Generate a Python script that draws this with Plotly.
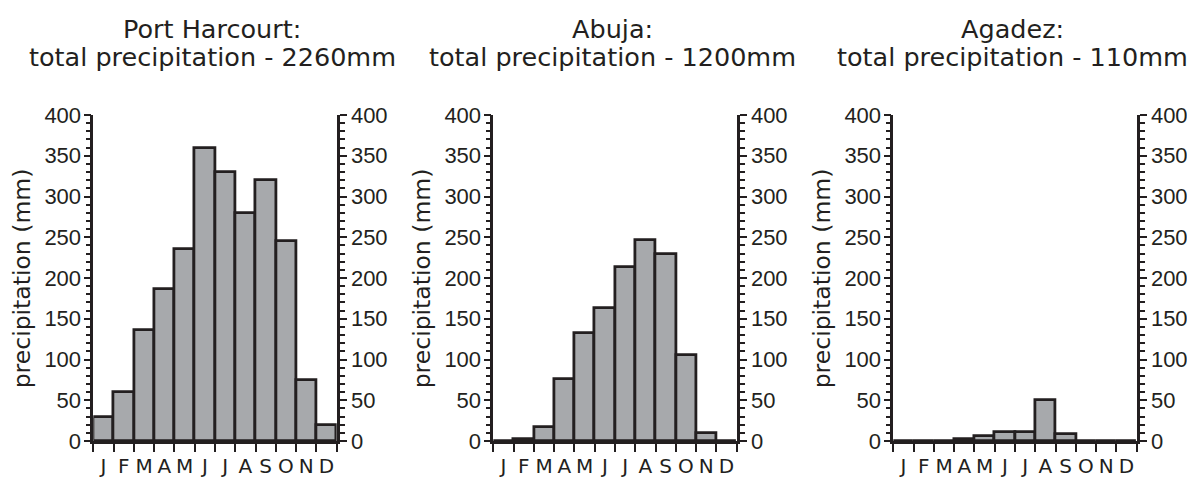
import plotly.graph_objects as go

months = ["J", "F", "M", "A", "M", "J", "J", "A", "S", "O", "N", "D"]
port_harcourt = [30, 60, 136, 186, 235, 360, 330, 280, 320, 245, 75, 20]
abuja = [0, 3, 17, 76, 133, 163, 213, 247, 230, 105, 10, 0]
agadez = [0, 0, 0, 2, 6, 11, 11, 50, 8, 0, 0, 0]
series = [port_harcourt, abuja, agadez]
title_line1 = ["Port Harcourt:", "Abuja:", "Agadez:"]
title_line2 = [
    "total precipitation - 2260mm",
    "total precipitation - 1200mm",
    "total precipitation - 110mm",
]
y_title = "precipitation (mm)"
y_ticks = [0, 50, 100, 150, 200, 250, 300, 350, 400]

INK = "#231f20"
FILL = "#a7a9ac"
FONT = "DejaVu Sans"
NUM_FONT = "Liberation Sans"

W, H = 1195, 478
OFF = 8  # page body margin offset
x_domains = [(93.3, 336.7), (493.3, 736.7), (893.3, 1136.7)]
PLOT_TOP, PLOT_BOT = 115, 441


def px_x(p):
    return (p - OFF) / W


def px_y(p):
    return 1 - (p - OFF) / H


fig = go.Figure()
xpos = list(range(len(months)))

layout = dict(
    width=W, height=H,
    margin=dict(l=0, r=0, t=0, b=0, autoexpand=False),
    paper_bgcolor="white", plot_bgcolor="white",
    showlegend=False, bargap=0,
    font=dict(family=FONT, color=INK),
    annotations=[],
)

for i, vals in enumerate(series):
    k = i + 1
    xa = "x" if k == 1 else f"x{k}"
    yl = 2 * k - 1
    yr = 2 * k
    yla = "y" if yl == 1 else f"y{yl}"
    yra = f"y{yr}"
    fig.add_trace(go.Bar(
        x=xpos, y=vals, xaxis=xa, yaxis=yla,
        marker=dict(color=FILL, line=dict(color=INK, width=2.8)),
        width=1.0, hoverinfo="skip",
    ))
    fig.add_trace(go.Scatter(
        x=xpos, y=vals, xaxis=xa, yaxis=yra, mode="markers",
        marker=dict(opacity=0), hoverinfo="skip",
    ))
    d0, d1 = x_domains[i]
    xkey = "xaxis" if k == 1 else f"xaxis{k}"
    ylkey = "yaxis" if yl == 1 else f"yaxis{yl}"
    yrkey = f"yaxis{yr}"
    layout[xkey] = dict(
        domain=[px_x(d0), px_x(d1)], anchor=yla, automargin=False,
        range=[-0.5, len(months) - 0.5],
        tickmode="array", tickvals=xpos, ticktext=months,
        ticks="", showgrid=False, zeroline=False,
        showline=True, linecolor=INK, linewidth=2.6,
        tickfont=dict(size=20, color=INK), ticklabelstandoff=5,
        minor=dict(tick0=-0.5, dtick=1, ticks="outside", ticklen=8,
                   tickwidth=1.8, tickcolor=INK, showgrid=False),
        fixedrange=True,
    )
    yaxis_common = dict(
        range=[0, 400], tickmode="array", tickvals=y_ticks,
        ticks="outside", ticklen=7, tickwidth=2, tickcolor=INK,
        showgrid=False, zeroline=False, automargin=False,
        showline=True, linecolor=INK, linewidth=2.6,
        tickfont=dict(family=NUM_FONT, size=22, color=INK),
        minor=dict(dtick=10, ticks="outside", ticklen=5, tickwidth=1.5,
                   tickcolor=INK, showgrid=False),
        fixedrange=True,
    )
    layout[ylkey] = dict(
        yaxis_common, domain=[px_y(PLOT_BOT), px_y(PLOT_TOP)], anchor=xa,
        side="left", ticklabelstandoff=-2,
    )
    layout[yrkey] = dict(
        yaxis_common, overlaying=yla, anchor=xa, side="right",
        ticklabelstandoff=0,
    )
    cx = (d0 + d1) / 2 - 3
    layout["annotations"].append(dict(
        text=title_line1[i], xref="paper", yref="paper",
        x=px_x(cx), y=px_y(29), xanchor="center", yanchor="middle",
        showarrow=False, font=dict(size=25.5, color=INK),
    ))
    layout["annotations"].append(dict(
        text=title_line2[i], xref="paper", yref="paper",
        x=px_x(cx), y=px_y(56.5), xanchor="center", yanchor="middle",
        showarrow=False, font=dict(size=25.5, color=INK),
    ))
    layout["annotations"].append(dict(
        text=y_title, xref="paper", yref="paper", textangle=-90,
        x=px_x(d0 - 71), y=px_y((PLOT_TOP + PLOT_BOT) / 2),
        xanchor="center", yanchor="middle",
        showarrow=False, font=dict(size=23.5, color=INK),
    ))

fig.update_layout(**layout)
fig.write_html("out.html")
